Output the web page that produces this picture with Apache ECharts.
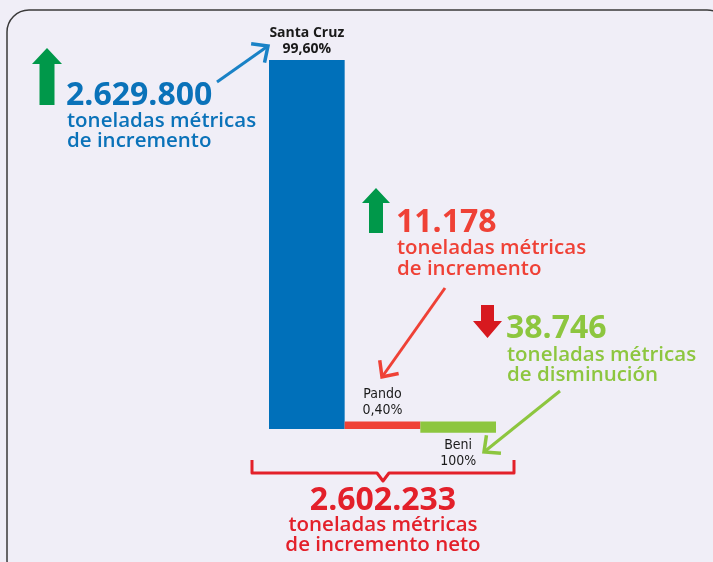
<!DOCTYPE html>
<html>
<head>
<meta charset="utf-8">
<script src="https://cdn.jsdelivr.net/npm/echarts@6/dist/echarts.min.js"></script>
<style>
html, body { margin: 0; padding: 0; background: #f0eef7; }
#chart { width: 713px; height: 562px; }
</style>
</head>
<body>
<div id="chart"></div>
<script>
// datos (toneladas métricas)
var categories = ['Santa Cruz', 'Pando', 'Beni'];
var deltas = [2629800, 11178, -38746];
var shares = ['99,60%', '0,40%', '100%'];
var deltaLabels = ['2.629.800', '11.178', '38.746'];
var netLabel = '2.602.233';
var barColors = ['#0070ba', '#ef4136', '#8dc63f'];

// Santa Cruz va sola; Pando y Beni en cascada desde la base
var waterfall = [[0, 0, deltas[0]]];
var acc = 0;
for (var i = 1; i < deltas.length; i++) {
    waterfall.push([i, acc, acc + deltas[i]]);
    acc += deltas[i];
}

var chart = echarts.init(document.getElementById('chart'));

function renderBar(params, api) {
    var idx = api.value(0);
    var p0 = api.coord([idx, api.value(1)]);
    var p1 = api.coord([idx, api.value(2)]);
    var w = api.size([1, 0])[0];
    var top = Math.min(p0[1], p1[1]);
    var bottom = Math.max(p0[1], p1[1]);
    // barras muy delgadas: se engrosan un poco para que se vean
    if (bottom - top < 10) top -= 6;
    var up = api.value(2) >= api.value(1);
    var first = idx === 0;
    return {
        type: 'group',
        children: [{
            type: 'rect',
            shape: { x: p0[0] - w / 2, y: top, width: w, height: bottom - top },
            style: { fill: barColors[idx] }
        }, {
            type: 'text',
            style: {
                text: categories[idx] + '\n' + shares[idx],
                x: p0[0],
                y: up ? top - 3 : bottom + 4,
                textAlign: 'center',
                textVerticalAlign: up ? 'bottom' : 'top',
                font: first ? 'bold 14px "Open Sans"' : '14px "Liberation Sans Narrow", "DejaVu Sans Condensed"',
                lineHeight: 16,
                fill: '#1a1a1a'
            }
        }]
    };
}

function txt(str, x, y, size, weight, color, align) {
    return {
        type: 'text',
        style: {
            text: str, x: x, y: y,
            font: weight + ' ' + size + 'px "Open Sans"',
            fill: color,
            textAlign: align || 'left',
            textVerticalAlign: 'middle'
        }
    };
}

function arrow(x1, y1, x2, y2, color) {
    var a = Math.atan2(y2 - y1, x2 - x1);
    var len = 17, sp = 0.75;
    return [{
        type: 'polyline',
        shape: { points: [[x1, y1], [x2, y2]] },
        style: { stroke: color, lineWidth: 3 }
    }, {
        type: 'polyline',
        shape: { points: [
            [x2 - len * Math.cos(a - sp), y2 - len * Math.sin(a - sp)],
            [x2, y2],
            [x2 - len * Math.cos(a + sp), y2 - len * Math.sin(a + sp)]
        ] },
        style: { stroke: color, lineWidth: 3.5, fill: null, lineJoin: 'miter' }
    }];
}

var graphics = [
    { type: 'rect', shape: { x: 7, y: 10, width: 722, height: 572, r: 22 },
      style: { fill: 'none', stroke: '#3a3a3a', lineWidth: 1.5 } },

    // flecha verde, Santa Cruz
    { type: 'polygon', shape: { points: [[47, 48], [62, 64], [54.5, 64], [54.5, 105], [39.5, 105], [39.5, 64], [32, 64]] },
      style: { fill: '#00984a' } },
    txt(deltaLabels[0], 66, 96, 32, 'bold', '#0a72b9'),
    txt('toneladas métricas', 67, 121, 20.5, '600', '#0a72b9'),
    txt('de incremento', 67, 141, 20.5, '600', '#0a72b9'),

    // Pando
    { type: 'polygon', shape: { points: [[376, 188], [390, 203], [383, 203], [383, 233], [369, 233], [369, 203], [362, 203]] },
      style: { fill: '#00984a' } },
    txt(deltaLabels[1], 396, 223, 32, 'bold', '#ef4136'),
    txt('toneladas métricas', 397, 248, 20.5, '600', '#ef4136'),
    txt('de incremento', 397, 269, 20.5, '600', '#ef4136'),

    // Beni
    { type: 'polygon', shape: { points: [[481, 305], [494, 305], [494, 321], [502, 321], [487.5, 338], [473, 321], [481, 321]] },
      style: { fill: '#d7191f' } },
    txt(deltaLabels[2], 506, 329, 32, 'bold', '#8dc63f'),
    txt('toneladas métricas', 507, 355, 20.5, '600', '#8dc63f'),
    txt('de disminución', 507, 375, 20.5, '600', '#8dc63f'),

    // llave y total neto
    { type: 'polyline', shape: { points: [[252, 460], [252, 473], [377, 473], [383, 481], [389, 473], [514, 473], [514, 460]] },
      style: { stroke: '#e3202a', lineWidth: 3, fill: null, lineJoin: 'round' } },
    txt(netLabel, 383, 501, 32, 'bold', '#e3202a', 'center'),
    txt('toneladas métricas', 383, 525, 20.5, '600', '#e3202a', 'center'),
    txt('de incremento neto', 383, 545, 20.5, '600', '#e3202a', 'center')
];
graphics = graphics
    .concat(arrow(217, 82, 268, 46, '#1a82c6'))
    .concat(arrow(445, 288, 382, 377, '#ef4136'))
    .concat(arrow(560, 391, 484, 452, '#8dc63f'));

var option = {
    animation: false,
    backgroundColor: '#f0eef7',
    grid: { left: 269, right: 217, top: 60, bottom: 133 },
    xAxis: { type: 'category', data: categories, show: false },
    yAxis: { type: 'value', min: 0, max: deltas[0], show: false },
    graphic: graphics,
    series: [{
        type: 'custom',
        renderItem: renderBar,
        encode: { x: 0, y: [1, 2] },
        data: waterfall
    }]
};

chart.setOption(option);
</script>
</body>
</html>
